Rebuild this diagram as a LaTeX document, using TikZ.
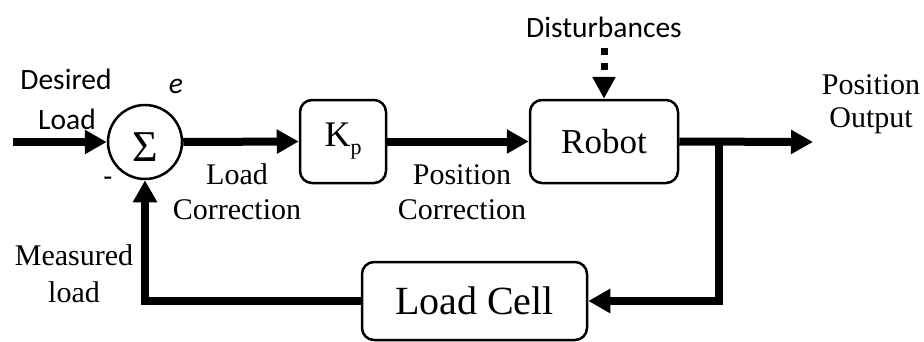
\documentclass[tikz,border=0pt]{standalone}
\usepackage{fontspec}
\setmainfont{Liberation Serif}
\newfontfamily\calib{Carlito}
\usetikzlibrary{arrows.meta}
\begin{document}
\begin{tikzpicture}[x=1pt,y=-1pt,
  block/.style={draw, line width=2.5pt, rounded corners=12pt, inner sep=0pt},
  flow/.style={line width=8pt, -{Triangle[length=22pt,width=23pt]}},
  lbl/.style={font=\fontsize{30}{35}\selectfont, align=center, inner sep=0pt},
  sans/.style={font=\calib\fontsize{29.5}{34}\selectfont, inner sep=0pt}]
\useasboundingbox (0,0) rectangle (924,341);

% blocks
\node[circle, draw, line width=2.5pt, minimum size=74pt, inner sep=0pt] (sum) at (145,142) {};
\node[font=\fontsize{44}{44}\selectfont, inner sep=0pt] (sigma) at (145,147) {Σ};
\node[block, minimum width=86pt, minimum height=83pt, font=\fontsize{36}{36}\selectfont] (kp) at (343,141.5)
  {K\raisebox{-0.22em}{\fontsize{22}{22}\selectfont p}};
\node[block, minimum width=148pt, minimum height=83pt, font=\fontsize{35}{35}\selectfont] (robot) at (604,141.5) {Robot};
\node[block, minimum width=225pt, minimum height=78pt, font=\fontsize{40}{40}\selectfont] (cell) at (474.5,301) {Load Cell};

% free ends and branch point
\coordinate (in) at (13,142);
\coordinate (out) at (813,142);
\coordinate (split) at (719,142);
\coordinate (dtop) at (604,48);

% forward path
\draw[flow] (in) -- (sum.west);
\draw[flow] (sum.east) -- (kp.west);
\draw[flow] (kp.east) -- (robot.west);
\draw[flow] (robot.east) -- (out);

% feedback path
\draw[flow] (split) |- (cell.east);
\draw[flow] (cell.west) -| (sum.south);

% disturbance input
\node[sans] (dist) at (604,27) {Disturbances};
\draw[line width=7pt, dash pattern=on 7pt off 8pt, -{Triangle[length=22pt,width=22pt]}] (dtop) -- (robot.north);

% signal labels
\node[sans] (desired) at (66,79) {Desired};
\node[sans] (dload) at (67,119) {Load};
\node[sans, font=\calib\itshape\fontsize{29.5}{34}\selectfont] (err) at (176,86) {e};
\node[sans] (minus) at (108,182) {-};
\node[lbl] (lcorr) at (237,192) {Load\\Correction};
\node[lbl] (pcorr) at (462,192) {Position\\Correction};
\node[lbl, font=\fontsize{30}{33}\selectfont] (pout) at (871,104) {Position\\Output};
\node[lbl, font=\fontsize{30}{37}\selectfont] (meas) at (74,274) {Measured\\load};
\end{tikzpicture}
\end{document}
